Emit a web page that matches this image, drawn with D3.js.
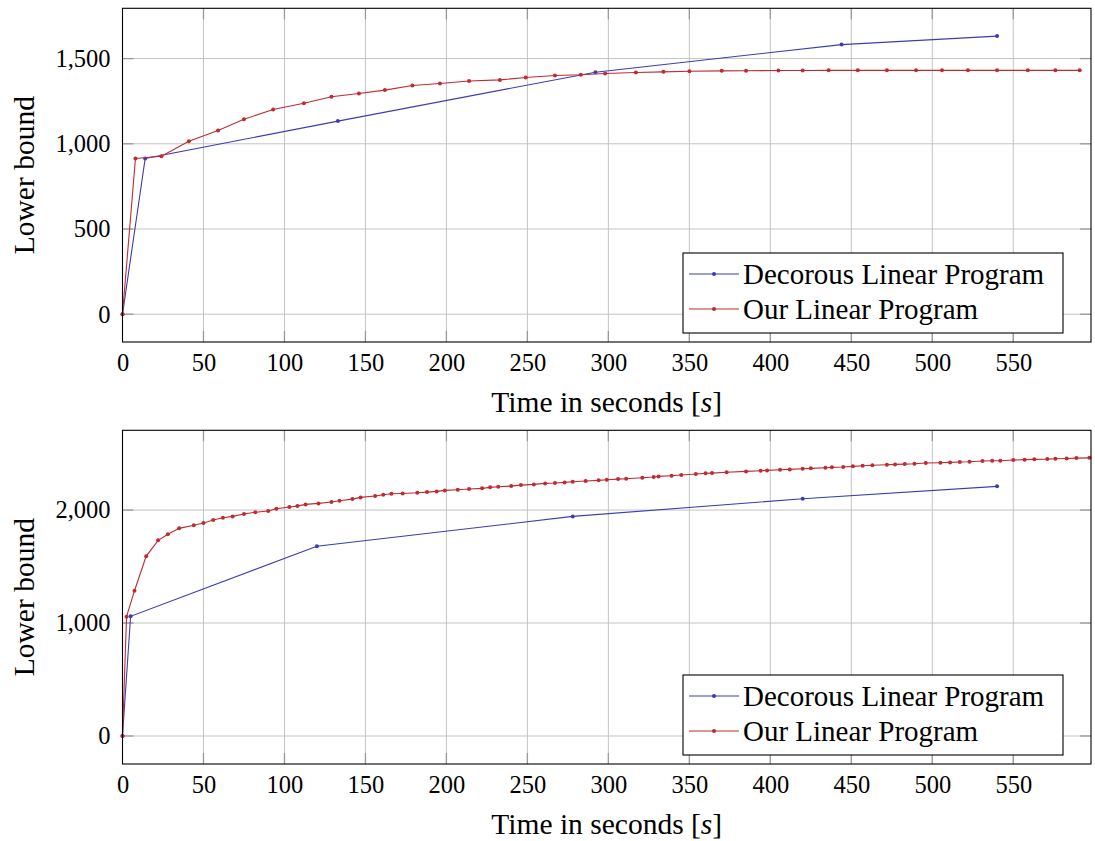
<!DOCTYPE html>
<html>
<head>
<meta charset="utf-8">
<script src="https://cdn.jsdelivr.net/npm/d3@7"></script>
<style>
  body { margin: 0; background: #fff; }
  svg, svg text { font-family: "Liberation Serif", serif; }
  svg { display: block; }
</style>
</head>
<body>
<div class="content"></div>
<script>
// tick labels and series names
const timeTicks = [0, 50, 100, 150, 200, 250, 300, 350, 400, 450, 500, 550];
const topBoundTicks = [0, 500, 1000, 1500];
const bottomBoundTicks = [0, 1000, 2000];
const seriesNames = ["Decorous Linear Program", "Our Linear Program"];

// top chart: decorous LP
const topDecorousTime = [0, 14, 133, 292, 444, 540];
const topDecorousBound = [0, 914, 1133, 1420, 1582, 1632];
// top chart: our LP
const topOursTime = [0, 8, 24, 41, 59, 75, 93, 112, 129, 146, 162, 179, 196, 214, 233, 249, 267, 283,
  298, 317, 334, 350, 370, 385, 405, 420, 436, 454, 472, 490, 506, 522, 540, 559, 576, 591];
const topOursBound = [0, 914, 927, 1015, 1078, 1144, 1201, 1238, 1276, 1295, 1315, 1342, 1354, 1368, 1375, 1389, 1401, 1405,
  1412, 1418, 1422, 1426, 1428, 1429, 1430, 1430, 1431, 1431, 1431, 1431, 1431, 1431, 1431, 1431, 1431, 1431];

// bottom chart: decorous LP
const bottomDecorousTime = [0, 5, 120, 278, 420, 540];
const bottomDecorousBound = [0, 1059, 1679, 1944, 2100, 2210];
// bottom chart: our LP
const bottomOursTime = [0, 2.5, 7.4, 14.6, 22, 28, 35, 44, 50, 56, 62, 68, 75, 82, 90, 95, 103, 108, 113,
  121, 129, 134, 142, 147, 156, 161, 166, 173, 182, 188, 194, 199, 207, 214, 222, 227, 232, 240, 246,
  254, 261, 267, 273, 278, 286, 294, 299, 306, 311, 321, 328, 331, 339, 345, 354, 360, 364, 373, 385,
  394, 398, 406, 412, 420, 425, 434, 438, 445, 451, 457, 463, 472, 477, 483, 489, 496, 505, 511, 517,
  523, 531, 537, 542, 550, 557, 563, 571, 576, 583, 589, 597];
const bottomOursBound = [0, 1056, 1286, 1590, 1732, 1785, 1838, 1865, 1885, 1912, 1932, 1944, 1965, 1980, 1991, 2012, 2027, 2035, 2050,
  2059, 2071, 2082, 2097, 2112, 2124, 2135, 2144, 2147, 2153, 2159, 2165, 2174, 2180, 2186, 2192, 2201, 2206, 2212, 2221,
  2227, 2236, 2239, 2245, 2251, 2257, 2263, 2268, 2274, 2277, 2286, 2292, 2298, 2304, 2310, 2319, 2325, 2327, 2334, 2342,
  2348, 2351, 2357, 2360, 2366, 2369, 2375, 2378, 2381, 2387, 2392, 2396, 2401, 2404, 2407, 2410, 2416, 2419, 2422, 2425,
  2427, 2434, 2437, 2437, 2443, 2446, 2449, 2451, 2454, 2457, 2460, 2462];

const blue = "#3c3cb2", red = "#c02a30";

const svgW = 1095, svgH = 841;
const svg = d3.select(".content").append("svg")
  .attr("width", svgW)
  .attr("height", svgH);

function zip(xs, ys) {
  return xs.map((x, i) => [x, ys[i]]);
}

// one pgfplots-like panel
function panel(top, height, yDomain, yTicks, decorous, ours) {
  const left = 122.5, right = 1091;
  const x = d3.scaleLinear().domain([0, 598]).range([left, right]);
  const y = d3.scaleLinear().domain(yDomain).range([top + height, top]);
  const g = svg.append("g");

  // grid
  g.selectAll(".gx").data(timeTicks.slice(1)).join("line")
    .attr("x1", d => x(d)).attr("x2", d => x(d))
    .attr("y1", top).attr("y2", top + height)
    .attr("stroke", "#c4c4c4").attr("stroke-width", 1);
  g.selectAll(".gy").data(yTicks).join("line")
    .attr("x1", left).attr("x2", right)
    .attr("y1", d => y(d)).attr("y2", d => y(d))
    .attr("stroke", "#c4c4c4").attr("stroke-width", 1);

  // axes (ticks inside, on both sides)
  const tl = 11;
  const bottomAxis = d3.axisBottom(x).tickValues(timeTicks).tickSize(0).tickPadding(12).tickFormat(d3.format("d"));
  const ax = g.append("g").attr("transform", `translate(0,${top + height})`).call(bottomAxis);
  ax.attr("font-family", null);
  ax.select(".domain").remove();
  ax.selectAll("text").attr("fill", "#000")
    .style("font-family", "'Liberation Serif', serif").style("font-size", "24.5px");

  const leftAxis = d3.axisLeft(y).tickValues(yTicks).tickSize(0).tickPadding(12).tickFormat(d3.format(","));
  const ay = g.append("g").attr("transform", `translate(${left},0)`).call(leftAxis);
  ay.attr("font-family", null);
  ay.select(".domain").remove();
  ay.selectAll("text").attr("fill", "#000")
    .style("font-family", "'Liberation Serif', serif").style("font-size", "24.5px");

  const tickStyle = sel => sel.attr("stroke", "#9a9a9a").attr("stroke-width", 1.3);
  g.selectAll(".tb").data(timeTicks.slice(1)).join("line")
    .attr("x1", d => x(d)).attr("x2", d => x(d))
    .attr("y1", top + height).attr("y2", top + height - tl).call(tickStyle);
  g.selectAll(".tt").data(timeTicks.slice(1)).join("line")
    .attr("x1", d => x(d)).attr("x2", d => x(d))
    .attr("y1", top).attr("y2", top + tl).call(tickStyle);
  g.selectAll(".tl").data(yTicks).join("line")
    .attr("x1", left).attr("x2", left + tl)
    .attr("y1", d => y(d)).attr("y2", d => y(d)).call(tickStyle);
  g.selectAll(".tr").data(yTicks).join("line")
    .attr("x1", right).attr("x2", right - tl)
    .attr("y1", d => y(d)).attr("y2", d => y(d)).call(tickStyle);

  // series
  const line = d3.line().x(d => x(d[0])).y(d => y(d[1]));
  [[decorous, blue], [ours, red]].forEach(([pts, col]) => {
    g.append("path").datum(pts)
      .attr("d", line).attr("fill", "none")
      .attr("stroke", col).attr("stroke-width", 1.1);
    g.selectAll(null).data(pts).join("circle")
      .attr("cx", d => x(d[0])).attr("cy", d => y(d[1]))
      .attr("r", 2).attr("fill", col);
  });

  // frame
  g.append("rect")
    .attr("x", left).attr("y", top)
    .attr("width", right - left).attr("height", height)
    .attr("fill", "none").attr("stroke", "#000").attr("stroke-width", 1.1);

  // axis labels
  g.append("text")
    .attr("transform", `translate(34,${top + height / 2}) rotate(-90)`)
    .attr("text-anchor", "middle")
    .style("font-size", "29.5px")
    .text("Lower bound");
  const xl = g.append("text")
    .attr("x", (left + right) / 2).attr("y", top + height + 70)
    .attr("text-anchor", "middle")
    .style("font-size", "29.5px");
  xl.append("tspan").text("Time in seconds [");
  xl.append("tspan").attr("font-style", "italic").text("s");
  xl.append("tspan").text("]");

  // legend
  const lx = 683, ly = top + height - 89, lw = 380, lh = 80;
  const leg = g.append("g");
  leg.append("rect")
    .attr("x", lx).attr("y", ly).attr("width", lw).attr("height", lh)
    .attr("fill", "#fff").attr("stroke", "#000").attr("stroke-width", 1.1);
  [blue, red].forEach((col, i) => {
    const cy = ly + 21 + i * 35;
    leg.append("line")
      .attr("x1", lx + 6).attr("x2", lx + 56)
      .attr("y1", cy).attr("y2", cy)
      .attr("stroke", col).attr("stroke-width", 1.1);
    leg.append("circle").attr("cx", lx + 31).attr("cy", cy).attr("r", 2).attr("fill", col);
    leg.append("text")
      .attr("x", lx + 60).attr("y", cy + 10)
      .style("font-size", "29px")
      .text(seriesNames[i]);
  });
}

panel(8.3, 333.7, [-163, 1795], topBoundTicks,
  zip(topDecorousTime, topDecorousBound), zip(topOursTime, topOursBound));
panel(430.3, 333.7, [-248, 2706], bottomBoundTicks,
  zip(bottomDecorousTime, bottomDecorousBound), zip(bottomOursTime, bottomOursBound));
</script>
</body>
</html>
